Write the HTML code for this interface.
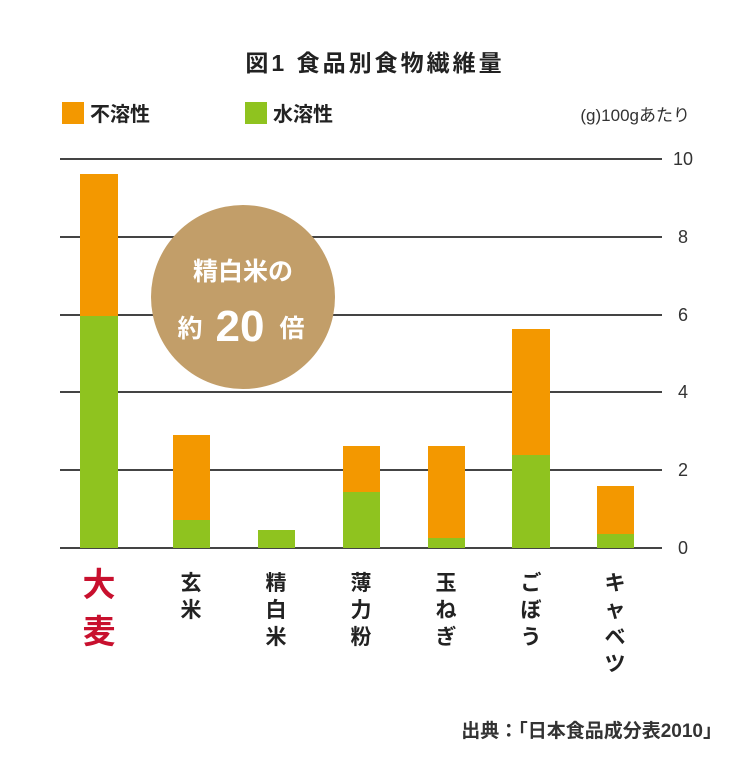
<!DOCTYPE html>
<html><head><meta charset="utf-8"><style>
body{margin:0;background:#fff;}
svg text{font-family:"Liberation Sans","Noto Sans CJK JP",sans-serif;}
</style></head><body>
<svg width="750" height="765" viewBox="0 0 750 765" xmlns="http://www.w3.org/2000/svg">
<rect width="750" height="765" fill="#fff"/>
<text x="375" y="71" text-anchor="middle" font-size="23" font-weight="bold" fill="#222" letter-spacing="3">図1 食品別食物繊維量</text>
<rect x="62" y="102" width="22" height="22" fill="#f39800"/>
<text x="90" y="121" font-size="20" font-weight="bold" fill="#222">不溶性</text>
<rect x="245" y="102" width="22" height="22" fill="#8fc31f"/>
<text x="273" y="121" font-size="20" font-weight="bold" fill="#222">水溶性</text>
<text x="690" y="121" text-anchor="end" font-size="17" fill="#333">(g)100gあたり</text>
<g stroke="#444" stroke-width="2">
<line x1="60" y1="159" x2="662" y2="159"/>
<line x1="60" y1="237" x2="662" y2="237"/>
<line x1="60" y1="315" x2="662" y2="315"/>
<line x1="60" y1="392" x2="662" y2="392"/>
<line x1="60" y1="470" x2="662" y2="470"/>
<line x1="60" y1="548" x2="662" y2="548"/>
</g>
<g font-size="18" fill="#333" text-anchor="middle">
<text x="683" y="165">10</text><text x="683" y="243">8</text><text x="683" y="321">6</text>
<text x="683" y="398">4</text><text x="683" y="476">2</text><text x="683" y="554">0</text>
</g>
<g fill="#f39800">
<rect x="80" y="174" width="38" height="142"/>
<rect x="173" y="435" width="37" height="85"/>
<rect x="343" y="446" width="37" height="46"/>
<rect x="428" y="446" width="37" height="92"/>
<rect x="512" y="329" width="38" height="126"/>
<rect x="597" y="486" width="37" height="48"/>
</g>
<g fill="#8fc31f">
<rect x="80" y="316" width="38" height="232"/>
<rect x="173" y="520" width="37" height="28"/>
<rect x="258" y="530" width="37" height="18"/>
<rect x="343" y="492" width="37" height="56"/>
<rect x="428" y="538" width="37" height="10"/>
<rect x="512" y="455" width="38" height="93"/>
<rect x="597" y="534" width="37" height="14"/>
</g>
<circle cx="243" cy="297" r="92" fill="#c29e69"/>
<text x="243" y="280" text-anchor="middle" font-size="25" font-weight="bold" fill="#fff">精白米の</text>
<text x="190" y="337" text-anchor="middle" font-size="25" font-weight="bold" fill="#fff">約</text>
<text x="240" y="341" text-anchor="middle" font-size="44" font-weight="bold" fill="#fff">20</text>
<text x="292" y="337" text-anchor="middle" font-size="25" font-weight="bold" fill="#fff">倍</text>
<g font-size="33" font-weight="bold" fill="#c8102e" text-anchor="middle">
<text x="99" y="596">大</text><text x="99" y="643">麦</text>
</g>
<g font-size="21" font-weight="bold" fill="#222" text-anchor="middle">
<text x="191" y="590">玄</text><text x="191" y="617">米</text>
<text x="276" y="590">精</text><text x="276" y="617">白</text><text x="276" y="644">米</text>
<text x="361" y="590">薄</text><text x="361" y="617">力</text><text x="361" y="644">粉</text>
<text x="446" y="590">玉</text><text x="446" y="617">ね</text><text x="446" y="644">ぎ</text>
<text x="531" y="590">ご</text><text x="531" y="617">ぼ</text><text x="531" y="644">う</text>
<text x="615" y="590">キ</text><text x="615" y="617">ャ</text><text x="615" y="644">ベ</text><text x="615" y="671">ツ</text>
</g>
<text x="722" y="737" text-anchor="end" font-size="19" font-weight="bold" fill="#333">出典：「日本食品成分表2010」</text>
</svg>
</body></html>
